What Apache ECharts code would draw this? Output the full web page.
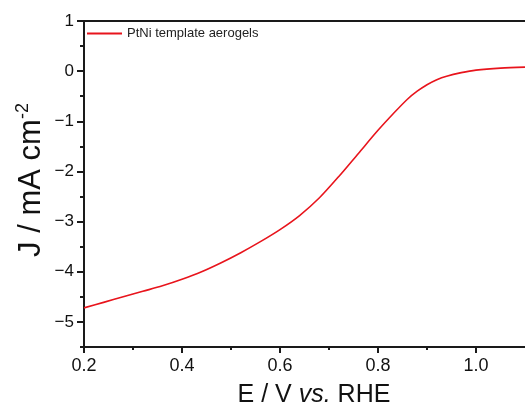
<!DOCTYPE html>
<html>
<head>
<meta charset="utf-8">
<script src="https://cdn.jsdelivr.net/npm/echarts@6/dist/echarts.min.js"></script>
<style>html,body{margin:0;padding:0;background:#fff;}#c{width:525px;height:410px;}</style>
</head>
<body>
<div id="c"></div>
<script>
const seriesName = 'PtNi template aerogels';
const potential = [0.20, 0.24, 0.28, 0.32, 0.36, 0.40, 0.44, 0.48, 0.52, 0.56, 0.60, 0.64, 0.68, 0.72, 0.76, 0.80, 0.83, 0.86, 0.88, 0.90, 0.92, 0.94, 0.97, 1.00, 1.05, 1.10];
const current   = [-4.72, -4.61, -4.50, -4.39, -4.28, -4.15, -4.00, -3.82, -3.62, -3.40, -3.16, -2.88, -2.53, -2.10, -1.64, -1.18, -0.86, -0.56, -0.40, -0.27, -0.17, -0.10, -0.03, 0.02, 0.06, 0.08];
const xMajorTicks = [0.2, 0.4, 0.6, 0.8, 1.0];
const xMinorTicks = [0.3, 0.5, 0.7, 0.9];
const yMajorTicks = [-5, -4, -3, -2, -1, 0, 1];
const yMinorTicks = [-5.5, -4.5, -3.5, -2.5, -1.5, -0.5, 0.5];

const chart = echarts.init(document.getElementById('c'), null, {renderer: 'canvas'});
const lineStyle = {color: '#1a1a1a', width: 2};
const font = 'Liberation Sans, Arial, sans-serif';
chart.setOption({
  animation: false,
  backgroundColor: '#fff',
  grid: {left: 84, right: 0, top: 21, bottom: 63},
  legend: {
    left: 87, top: 27, padding: 0, itemWidth: 35, itemHeight: 2, itemGap: 7,
    textStyle: {fontFamily: font, fontSize: 13, color: '#222'},
    data: [{name: seriesName, icon: 'path://M0,0 L35,0 L35,2 L0,2 Z', itemStyle: {color: '#e8141c'}}]
  },
  xAxis: [
    {type: 'value', min: 0.2, max: 1.1, position: 'bottom',
     axisLine: {show: true, onZero: false, lineStyle},
     axisTick: {show: true, inside: false, length: 6, lineStyle, customValues: xMajorTicks},
     axisLabel: {show: true, margin: 10, fontFamily: font, fontSize: 18, color: '#111',
                 customValues: xMajorTicks, formatter: v => v.toFixed(1)},
     splitLine: {show: false}},
    {type: 'value', min: 0.2, max: 1.1, position: 'bottom',
     axisLine: {show: false, onZero: false},
     axisTick: {show: true, length: 3, lineStyle, customValues: xMinorTicks},
     axisLabel: {show: false}, splitLine: {show: false}},
    {type: 'value', min: 0.2, max: 1.1, position: 'top',
     axisLine: {show: true, onZero: false, lineStyle},
     axisTick: {show: false}, axisLabel: {show: false}, splitLine: {show: false}}
  ],
  yAxis: [
    {type: 'value', min: -5.5, max: 1, position: 'left',
     axisLine: {show: true, onZero: false, lineStyle},
     axisTick: {show: true, length: 7, lineStyle, customValues: yMajorTicks},
     axisLabel: {show: true, margin: 10, fontFamily: font, fontSize: 17, color: '#111',
                 customValues: yMajorTicks, formatter: v => String(v).replace('-', '\u2212')},
     splitLine: {show: false}},
    {type: 'value', min: -5.5, max: 1, position: 'left',
     axisLine: {show: false, onZero: false},
     axisTick: {show: true, length: 4, lineStyle, customValues: yMinorTicks},
     axisLabel: {show: false}, splitLine: {show: false}}
  ],
  series: [{
    name: seriesName, type: 'line', xAxisIndex: 0, yAxisIndex: 0,
    smooth: 0.3, showSymbol: false, symbol: 'none',
    lineStyle: {color: '#e8141c', width: 1.6},
    itemStyle: {color: '#e8141c'},
    data: potential.map((x, i) => [x, current[i]])
  }],
  graphic: [
    {type: 'text', x: 314, y: 395, z: 10,
     style: {x: 0, y: 0, align: 'center', verticalAlign: 'middle',
       text: '{n|E / V }{i|vs.}{n| RHE}',
       rich: {n: {fontFamily: font, fontSize: 25, fill: '#111'},
              i: {fontFamily: font, fontSize: 25, fontStyle: 'italic', fill: '#111'}}}},
    {type: 'text', x: 31, y: 180, rotation: Math.PI / 2, z: 10,
     style: {x: 0, y: 0, align: 'center', verticalAlign: 'middle',
       text: '{n|J / mA cm}{s|-2}',
       rich: {n: {fontFamily: font, fontSize: 31, fill: '#111', lineHeight: 34},
              s: {fontFamily: font, fontSize: 18, fill: '#111', verticalAlign: 'top', lineHeight: 34, padding: [0, 0, 14, 0]}}}}
  ]
});
</script>
</body>
</html>
